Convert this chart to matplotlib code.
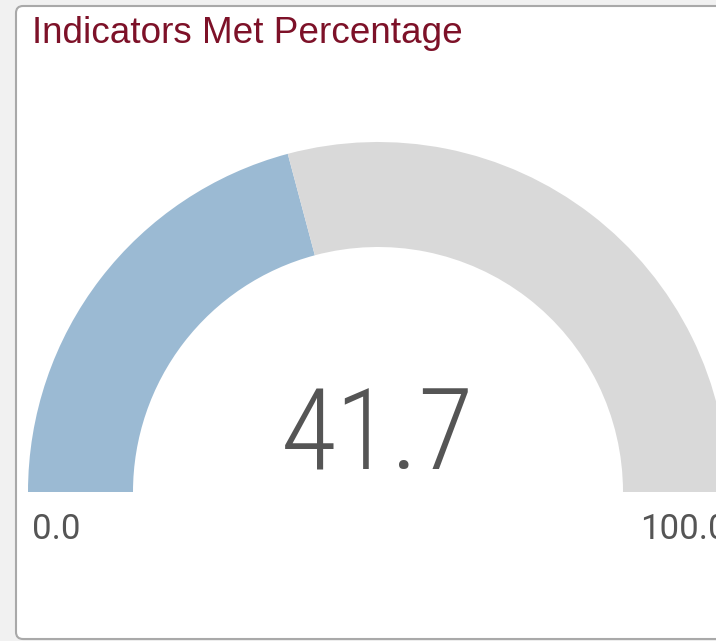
import matplotlib
matplotlib.use("Agg")
import matplotlib.pyplot as plt
from matplotlib.patches import Wedge, FancyBboxPatch

# --- data ---
title = "Indicators Met Percentage"
gauge_min = 0.0
gauge_max = 100.0
gauge_value = 41.7

# --- styling ---
W, H = 716, 641
fill_color = "#9bbad3"
track_color = "#d9d9d9"
title_color = "#7d1128"
text_color = "#555555"

fig = plt.figure(figsize=(W / 100, H / 100), dpi=100)
fig.patch.set_facecolor("#f1f1f1")
ax = fig.add_axes([0, 0, 1, 1])
ax.set_xlim(0, W)
ax.set_ylim(0, H)
ax.set_axis_off()

# card background
card = FancyBboxPatch((16, 2), W + 20, H - 8, boxstyle="round,pad=0,rounding_size=7",
                      facecolor="white", edgecolor="#a9a9a9", linewidth=1.5)
ax.add_patch(card)

ax.text(32, H - 43, title, color=title_color, fontsize=26.6,
        family="Liberation Sans", ha="left", va="baseline")

# gauge
cx, cy = 378, H - 492
r_out, r_in = 350, 245
frac = (gauge_value - gauge_min) / (gauge_max - gauge_min)
split = 180 - frac * 180
ax.add_patch(Wedge((cx, cy), r_out, split, 180, width=r_out - r_in,
                   facecolor=fill_color, edgecolor="none"))
ax.add_patch(Wedge((cx, cy), r_out, 0, split, width=r_out - r_in,
                   facecolor=track_color, edgecolor="none"))

ax.text(cx, cy + 23, f"{gauge_value:.1f}", color=text_color, fontsize=82,
        family=["Roboto Condensed", "Roboto"], fontweight="light",
        fontstretch="condensed", ha="center", va="baseline")

ax.text(32, H - 539, f"{gauge_min:.1f}", color=text_color, fontsize=25,
        family="Roboto", ha="left", va="baseline")
ax.text(640, H - 539, f"{gauge_max:.1f}", color=text_color, fontsize=25,
        family="Roboto", ha="left", va="baseline")

fig.savefig("out.png", dpi=100, facecolor=fig.get_facecolor())
